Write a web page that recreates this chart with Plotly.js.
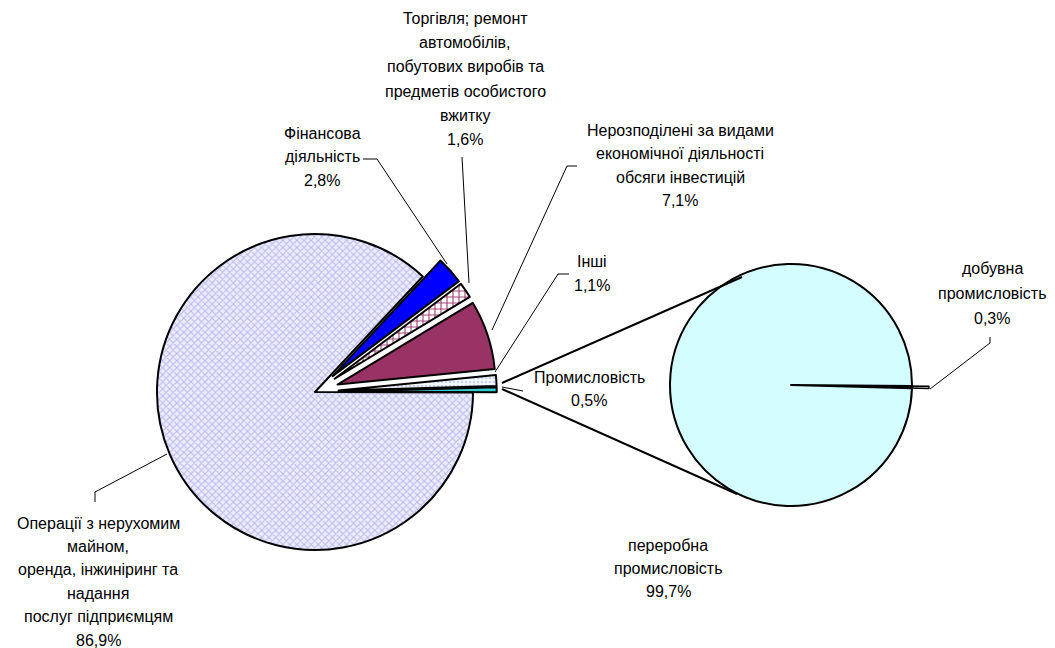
<!DOCTYPE html>
<html>
<head>
<meta charset="utf-8">
<script src="https://cdn.plot.ly/plotly-3.0.1.min.js"></script>
<style>html,body{margin:0;padding:0;background:#fff;}#chart{width:1055px;height:648px;}</style>
</head>
<body>
<div id="chart"></div>
<script>
// ---- data ----
const mainLabels = ['Фінансова діяльність',
  'Торгівля; ремонт автомобілів, побутових виробів та предметів особистого вжитку',
  'Нерозподілені за видами економічної діяльності обсяги інвестицій',
  'Інші', 'Промисловість',
  'Операції з нерухомим майном, оренда, інжиніринг та надання послуг підприємцям'];
const mainValues = [2.8, 1.6, 7.1, 1.1, 0.5, 86.9];
const subLabels = ['добувна промисловість', 'переробна промисловість'];
const subValues = [0.3, 99.7];
const mainLabelLines = [
  ['Фінансова', 'діяльність'],
  ['Торгівля; ремонт', 'автомобілів,', 'побутових виробів та', 'предметів особистого', 'вжитку'],
  ['Нерозподілені за видами', 'економічної діяльності', 'обсяги інвестицій'],
  ['Інші'],
  ['Промисловість'],
  ['Операції з нерухомим', 'майном,', 'оренда, інжиніринг та', 'надання', 'послуг підприємцям']
];
const subLabelLines = [['добувна', 'промисловість'], ['переробна', 'промисловість']];

// ---- layout helpers ----
const W = 1055, H = 648;
const px = x => x / W, py = y => 1 - y / H;
function domainFor(cx, cy, r, pull) {
  const half = r * (1 + pull);
  return {x: [px(cx - half), px(cx + half)], y: [py(cy + half), py(cy - half)]};
}
const fmt = v => v.toFixed(1).replace('.', ',') + '%';

const mainPull = 0.15, subPull = 0.14;
const traces = [
  {
    type: 'pie', values: mainValues, labels: mainLabels, sort: false,
    direction: 'clockwise', rotation: 43, textinfo: 'none', hoverinfo: 'label+percent',
    showlegend: false,
    pull: mainValues.map((v, i) => i === 5 ? 0 : mainPull),
    domain: domainFor(315, 392, 158, mainPull),
    marker: {
      colors: ['#0000ff', '#ffffff', '#993366', '#f2f6ff', '#33cccc', '#e6e6fb'],
      line: {color: '#000', width: 2},
      pattern: {
        shape: ['', '+', '', '.', '', 'x'],
        bgcolor: ['#0000ff', '#ffffff', '#993366', '#f4f8ff', '#33cccc', '#ececfd'],
        fgcolor: ['#0000ff', '#a3477a', '#993366', '#c6d6f2', '#33cccc', '#b9b9f1'],
        size: [6, 6, 6, 4, 6, 5],
        solidity: [0.3, 0.35, 0.3, 0.3, 0.3, 0.35]
      }
    }
  },
  {
    type: 'pie', values: subValues, labels: subLabels, sort: false,
    direction: 'clockwise', rotation: 90.46, textinfo: 'none', hoverinfo: 'label+percent',
    showlegend: false,
    pull: [subPull, 0],
    domain: domainFor(791, 385, 121, subPull),
    marker: {colors: ['#f0f0f0', '#d4fdff'], line: {color: '#000', width: [1.5, 2]}}
  }
];

// ---- labels (one annotation per line) ----
const font = {family: 'Liberation Sans, Arial, sans-serif', size: 16, color: '#000'};
const annotations = [];
function addLabel(lines, cx, y0, dy) {
  lines.forEach((t, i) => annotations.push({
    xref: 'paper', yref: 'paper', x: px(cx), y: py(y0 + i * dy), text: t,
    showarrow: false, xanchor: 'center', yanchor: 'middle', font: font
  }));
}
const labelPos = [[322, 133, 23.5], [465, 18, 24.4], [680, 130, 23.5], [592, 261, 24], [589, 377, 23.5], [98, 523, 23.4]];
mainLabelLines.forEach((lines, i) => {
  const p = labelPos[i];
  addLabel(lines.concat([fmt(mainValues[i])]), p[0], p[1], p[2]);
});
const subPos = [[992, 268, 25], [668, 545, 23]];
subLabelLines.forEach((lines, i) => {
  const p = subPos[i];
  addLabel(lines.concat([fmt(subValues[i])]), p[0], p[1], p[2]);
});

// ---- leader and connector lines ----
function path(pts) {
  return pts.map((p, i) => (i ? 'L' : 'M') + px(p[0]) + ',' + py(p[1])).join(' ');
}
const leaders = [
  [[363, 159], [377, 159], [447, 264]],
  [[462, 157], [469, 283]],
  [[577, 166], [567, 166], [492, 330]],
  [[569, 274], [558, 274], [495, 372]],
  [[502, 387], [523, 391]],
  [[990, 337], [990, 343], [930, 389]],
  [[95, 502], [95, 492], [167, 454]]
];
const connectors = [
  [[502, 383], [742, 277]],
  [[502, 389], [737, 494]]
];
const shapes = leaders.map(pts => ({type: 'path', xref: 'paper', yref: 'paper', path: path(pts), line: {color: '#000', width: 1}}))
  .concat(connectors.map(pts => ({type: 'path', xref: 'paper', yref: 'paper', path: path(pts), line: {color: '#000', width: 2}})));

const layout = {
  width: W, height: H, margin: {l: 0, r: 0, t: 0, b: 0},
  paper_bgcolor: '#fff', plot_bgcolor: '#fff', font: font,
  showlegend: false, annotations: annotations, shapes: shapes
};
Plotly.newPlot('chart', traces, layout, {displayModeBar: false, staticPlot: true});
</script>
</body>
</html>
